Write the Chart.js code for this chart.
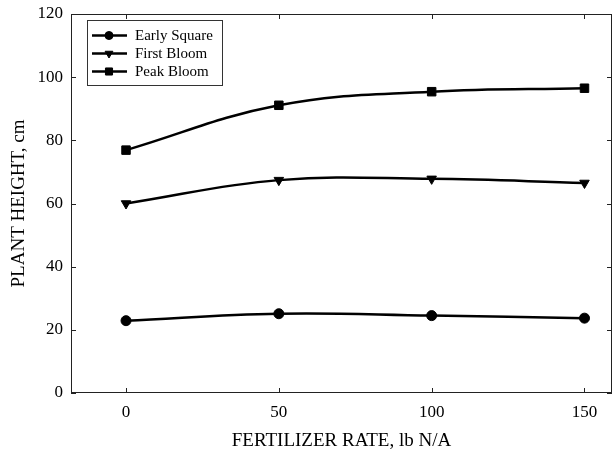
<!DOCTYPE html>
<html>
<head>
<meta charset="utf-8">
<script src="https://cdn.jsdelivr.net/npm/chart.js@4/dist/chart.umd.min.js"></script>
<style>
  body { margin: 0; background: #fff; }
  #plot { display: block; }
</style>
</head>
<body>
<canvas id="plot" width="614" height="452"></canvas>
<script>
// fertilizer rate (lb N/A)
var rates = [0, 50, 100, 150];
// plant height, cm
var earlySquare = [22.9, 25.1, 24.5, 23.7];
var firstBloom = [60.0, 67.4, 67.8, 66.5];
var peakBloom = [76.9, 91.1, 95.4, 96.5];
var seriesNames = ["Early Square", "First Bloom", "Peak Bloom"];
var xTicks = [0, 50, 100, 150];
var yTicks = [0, 20, 40, 60, 80, 100, 120];

var serif = "'Liberation Serif', 'Times New Roman', serif";

function pts(ys) {
    return rates.map(function (x, i) { return { x: x, y: ys[i] }; });
}

function series(label, ys, style, radius, rot, legendRadius) {
    return {
        label: label,
        data: pts(ys),
        borderColor: "#000",
        backgroundColor: "#000",
        borderWidth: 2.5,
        pointStyle: style,
        pointRadius: radius,
        pointRotation: rot,
        pointBorderWidth: 1,
        legendRadius: legendRadius,
        tension: 0.4
    };
}

// frame, inward ticks and the line+marker legend
var framePlugin = {
    id: "frame",
    afterDraw: function (chart) {
        var ctx = chart.ctx;
        var a = chart.chartArea;
        var xs = chart.scales.x, ys = chart.scales.y;
        ctx.save();
        ctx.strokeStyle = "#222";
        ctx.lineWidth = 1;
        ctx.strokeRect(a.left + 0.5, a.top + 0.5, a.right - a.left - 1, a.bottom - a.top - 1);
        ctx.beginPath();
        xTicks.forEach(function (v) {
            var px = Math.round(xs.getPixelForValue(v)) + 0.5;
            ctx.moveTo(px, a.bottom); ctx.lineTo(px, a.bottom - 5);
            ctx.moveTo(px, a.top); ctx.lineTo(px, a.top + 5);
        });
        yTicks.forEach(function (v) {
            var py = Math.round(ys.getPixelForValue(v)) + 0.5;
            ctx.moveTo(a.left, py); ctx.lineTo(a.left + 5, py);
            ctx.moveTo(a.right, py); ctx.lineTo(a.right - 5, py);
        });
        ctx.stroke();

        // legend
        var bx = a.left + 16, by = a.top + 6;
        ctx.strokeStyle = "#333";
        ctx.strokeRect(bx + 0.5, by + 0.5, 135, 65);
        ctx.font = "15px " + serif;
        ctx.textBaseline = "middle";
        ctx.fillStyle = "#000";
        chart.data.datasets.forEach(function (ds, i) {
            var ry = by + 15.5 + i * 18;
            ctx.strokeStyle = "#000";
            ctx.lineWidth = 2.5;
            ctx.beginPath();
            ctx.moveTo(bx + 5, ry); ctx.lineTo(bx + 40, ry);
            ctx.stroke();
            ctx.lineWidth = 1;
            Chart.helpers.drawPoint(ctx, {
                pointStyle: ds.pointStyle,
                radius: ds.legendRadius,
                rotation: ds.pointRotation,
                borderWidth: 1
            }, bx + 22, ry);
            ctx.fillText(ds.label, bx + 48, ry + 1);
        });
        ctx.restore();
    }
};

new Chart(document.getElementById("plot"), {
    type: "line",
    data: {
        datasets: [
            series(seriesNames[0], earlySquare, "circle", 5, 0, 4),
            series(seriesNames[1], firstBloom, "triangle", 5.5, 180, 4.5),
            series(seriesNames[2], peakBloom, "rect", 6, 0, 5)
        ]
    },
    options: {
        responsive: false,
        animation: false,
        layout: { autoPadding: false, padding: { left: 0, right: 2, top: 14, bottom: 0 } },
        plugins: { legend: { display: false }, tooltip: { enabled: false } },
        scales: {
            x: {
                type: "linear",
                min: -18,
                max: 159,
                grid: { display: false, drawTicks: false },
                border: { display: false },
                afterBuildTicks: function (s) { s.ticks = xTicks.map(function (v) { return { value: v }; }); },
                afterFit: function (s) { s.height = 59; s.paddingLeft = 0; s.paddingRight = 0; },
                ticks: { color: "#000", padding: 9, font: { family: serif, size: 17 } },
                title: {
                    display: true,
                    text: "FERTILIZER RATE, lb N/A",
                    color: "#000",
                    font: { family: serif, size: 19 },
                    padding: { top: 0, bottom: 0 }
                }
            },
            y: {
                min: 0,
                max: 120,
                grid: { display: false, drawTicks: false },
                border: { display: false },
                afterBuildTicks: function (s) { s.ticks = yTicks.map(function (v) { return { value: v }; }); },
                afterFit: function (s) { s.width = 71; s.paddingTop = 0; s.paddingBottom = 0; },
                ticks: { color: "#000", padding: 8, font: { family: serif, size: 17 } },
                title: {
                    display: true,
                    text: "PLANT HEIGHT, cm",
                    color: "#000",
                    font: { family: serif, size: 19 },
                    padding: { top: 8, bottom: 0 }
                }
            }
        }
    },
    plugins: [framePlugin]
});
</script>
</body>
</html>
